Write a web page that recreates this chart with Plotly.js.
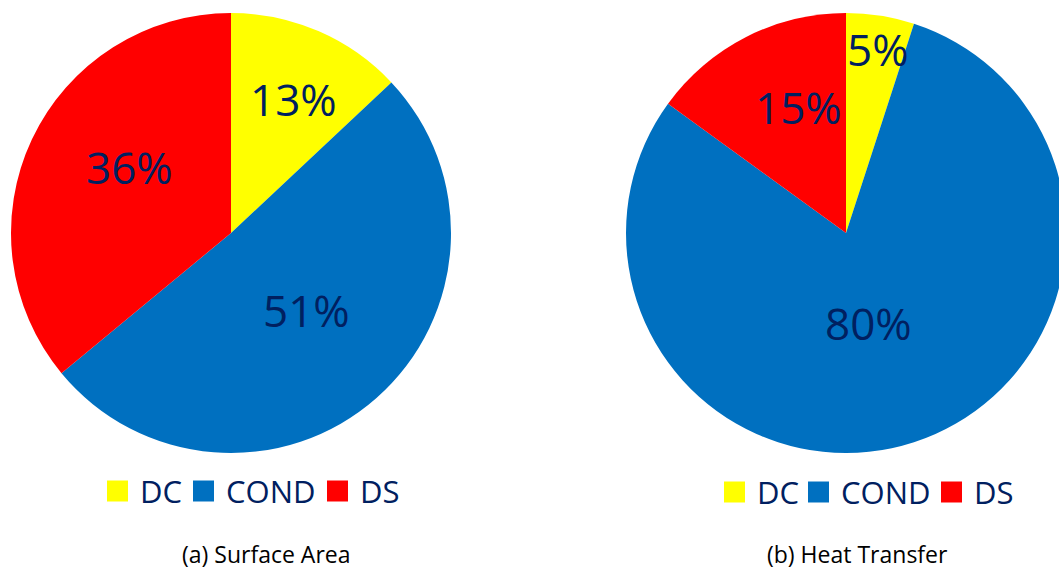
<!DOCTYPE html>
<html>
<head>
<meta charset="utf-8">
<script src="https://cdn.plot.ly/plotly-3.0.1.min.js"></script>
<style>
html,body{margin:0;padding:0;overflow:hidden;background:#fff;width:1059px;height:571px;}
#chart{width:1080px;height:571px;}
</style>
</head>
<body>
<div id="chart"></div>
<script>
// ---- data ----
const labels = ['DC', 'COND', 'DS'];
const colors = ['#FFFF00', '#0070C0', '#FF0000'];
const surfaceArea = [13, 51, 36];
const heatTransfer = [5, 80, 15];
const captions = ['(a) Surface Area', '(b) Heat Transfer'];

// ---- layout constants (pixels) ----
const W = 1080, H = 571;
const TEXT = '#002060';
const FONT = 'Open Sans, sans-serif';
const pies = [
  {values: surfaceArea, cx: 231, cy: 233, r: 220,
   labelR: [0.67, 0.49, 0.55], labelDA: [1.6, -3.2, 7.8],
   legendX: [107, 193, 327], legendY: 491, captionX: 266},
  {values: heatTransfer, cx: 846, cy: 233, r: 220,
   labelR: [0.85, 0.42, 0.61], labelDA: [0.9, 4, 6.4],
   legendX: [724, 808, 941], legendY: 492, captionX: 857}
];
const px = x => x / W;
const py = y => 1 - y / H;

const data = [];
const annotations = [];
const shapes = [];

pies.forEach((p, i) => {
  data.push({
    type: 'pie',
    values: p.values,
    labels: labels,
    marker: {colors: colors, line: {width: 0}},
    sort: false,
    direction: 'clockwise',
    rotation: 0,
    textinfo: 'none',
    hoverinfo: 'label+percent',
    showlegend: false,
    domain: {x: [px(p.cx - p.r), px(p.cx + p.r)], y: [py(p.cy + p.r), py(p.cy - p.r)]}
  });
  const total = p.values.reduce((a, b) => a + b, 0);
  let cum = 0;
  p.values.forEach((v, k) => {
    const mid = (cum + v / 2) / total * 360 + p.labelDA[k];
    cum += v;
    const a = mid * Math.PI / 180;
    const rr = p.r * p.labelR[k];
    const x = p.cx + rr * Math.sin(a);
    const y = p.cy - rr * Math.cos(a);
    annotations.push({
      xref: 'paper', yref: 'paper', x: px(x), y: py(y),
      xanchor: 'center', yanchor: 'middle', showarrow: false,
      text: Math.round(v / total * 100) + '%',
      font: {family: FONT, size: 44, color: TEXT}
    });
  });
  // custom legend
  labels.forEach((lab, k) => {
    const x0 = p.legendX[k];
    shapes.push({
      type: 'rect', xref: 'paper', yref: 'paper',
      x0: px(x0), x1: px(x0 + 21), y0: py(p.legendY + 10.5), y1: py(p.legendY - 10.5),
      fillcolor: colors[k], line: {width: 0}
    });
    annotations.push({
      xref: 'paper', yref: 'paper', x: px(x0 + 31), y: py(p.legendY),
      xanchor: 'left', yanchor: 'middle', showarrow: false,
      text: lab, font: {family: FONT, size: 31, color: TEXT}
    });
  });
  annotations.push({
    xref: 'paper', yref: 'paper', x: px(p.captionX), y: 0,
    xanchor: 'center', yanchor: 'bottom', showarrow: false,
    borderpad: 0,
    text: captions[i], font: {family: FONT, size: 23, color: '#000000'}
  });
});

const layout = {
  width: W, height: H,
  margin: {l: 0, r: 0, t: 0, b: 0},
  paper_bgcolor: '#ffffff',
  plot_bgcolor: '#ffffff',
  showlegend: false,
  annotations: annotations,
  shapes: shapes
};

Plotly.newPlot('chart', data, layout, {displayModeBar: false, staticPlot: true});
</script>
</body>
</html>
